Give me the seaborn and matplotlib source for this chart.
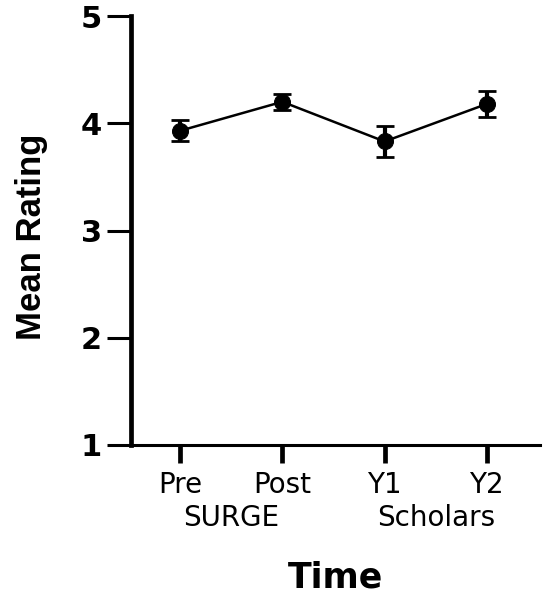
import matplotlib
matplotlib.use("Agg")
import matplotlib.pyplot as plt
import matplotlib.transforms as mtransforms
import seaborn as sns
import numpy as np
import pandas as pd

# Data
times = ["Pre", "Post", "Y1", "Y2"]
groups = ["SURGE", "Scholars"]
means = [3.93, 4.20, 3.83, 4.18]
errors = [0.10, 0.075, 0.143, 0.121]
yticks = [1, 2, 3, 4, 5]

sns.set_style("ticks")
plt.rcParams['font.family'] = ['DejaVu Sans']
plt.rcParams['text.color'] = 'black'
plt.rcParams['axes.labelcolor'] = 'black'
plt.rcParams['xtick.color'] = 'black'
plt.rcParams['ytick.color'] = 'black'

fig = plt.figure(figsize=(5.48, 6.0), dpi=100)
L, R, T, B = 131, 540, 16, 445
ax = fig.add_axes([L/548, 1-B/600, (R-L)/548, (B-T)/600])

pos = np.arange(len(times))
df = pd.DataFrame({"pos": pos, "mean": means})
ax.errorbar(pos, means, yerr=errors, fmt="none", ecolor="black",
            elinewidth=3.0, capsize=6.5, capthick=2.0, zorder=2)
sns.lineplot(data=df, x="pos", y="mean", ax=ax, color="black", linewidth=1.8,
             marker="o", markersize=11.5, markeredgecolor="black",
             markerfacecolor="black", zorder=3)

ax.set_xlim(-0.48, 3.52)
ax.set_ylim(1, 5)
ax.set_yticks(yticks)
ax.set_yticklabels([str(t) for t in yticks], fontsize=22, fontweight="heavy")
ax.set_xticks(pos)
ax.set_xticklabels(times, fontsize=20)

for spine in ["top", "right"]:
    ax.spines[spine].set_visible(False)
ax.spines["left"].set_linewidth(3.4)
ax.spines["bottom"].set_linewidth(2.2)
for spine in ["left", "bottom"]:
    ax.spines[spine].set_color("black")
ax.tick_params(axis="x", direction="out", length=13, width=3.4, pad=6)
ax.tick_params(axis="y", direction="out", length=17, width=2.2, pad=4)

trans = mtransforms.blended_transform_factory(ax.transData, fig.transFigure)
ax.text(0.5, 1-518/600, groups[0], transform=trans, ha="center", va="center", fontsize=20)
ax.text(2.5, 1-518/600, groups[1], transform=trans, ha="center", va="center", fontsize=20)

ax.set_xlabel("")
ax.set_ylabel("")
fig.text(336/548, 1-577/600, "Time", ha="center", va="center", fontsize=25, fontweight="heavy")
fig.text(32/548, 1-237/600, "Mean Rating", ha="center", va="center", rotation=90,
         fontsize=25, fontweight="bold", family=["Liberation Sans", "DejaVu Sans"])

fig.savefig("out.png", dpi=100)
